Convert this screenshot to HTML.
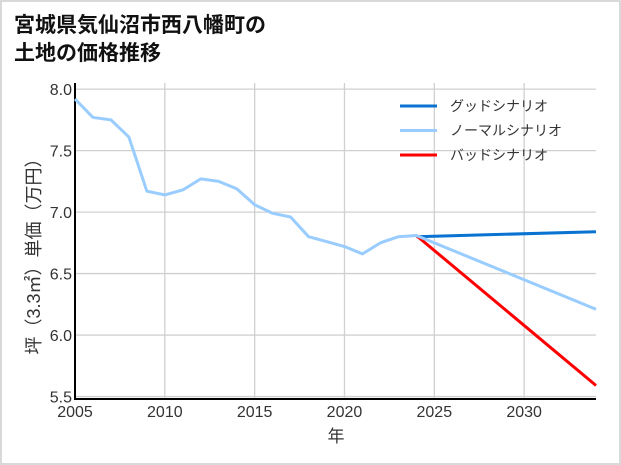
<!DOCTYPE html>
<html><head><meta charset="utf-8">
<style>
body{margin:0;background:#fff;}
#wrap{position:relative;width:617px;height:461px;border:2px solid #d9d9d9;background:#fff;overflow:hidden;}
#title{position:absolute;left:12px;top:10px;font:bold 21px/28px "Liberation Sans","Noto Sans CJK JP",sans-serif;color:#111;margin:0;}
svg{position:absolute;left:-2px;top:-2px;}
text{font-family:"Liberation Sans","Noto Sans CJK JP",sans-serif;fill:#333;}
text.tick{font-family:"Liberation Sans Narrow","Liberation Sans",sans-serif;}
</style></head><body>
<div id="wrap">
<h1 id="title">宮城県気仙沼市西八幡町の<br>土地の価格推移</h1>
<svg id="chart" width="621" height="465"></svg>
</div>
<script>
const years=[2005,2006,2007,2008,2009,2010,2011,2012,2013,2014,2015,2016,2017,2018,2019,2020,2021,2022,2023,2024];
const histValues=[7.92,7.77,7.75,7.61,7.17,7.14,7.18,7.27,7.25,7.19,7.06,6.99,6.96,6.80,6.76,6.72,6.66,6.75,6.80,6.81];
const forecastYears=[2024,2034];
const goodValues=[6.80,6.84];
const normalValues=[6.81,6.21];
const badValues=[6.81,5.59];
const xTicks=[2005,2010,2015,2020,2025,2030];
const yTicks=[5.5,6.0,6.5,7.0,7.5,8.0];
const yTickLabels=["5.5","6.0","6.5","7.0","7.5","8.0"];
const legendLabels=["グッドシナリオ","ノーマルシナリオ","バッドシナリオ"];

const NS="http://www.w3.org/2000/svg";
const svg=document.getElementById('chart');
const L=75,R=596,T=83,B=399;
const x=v=>L+(v-2005)/(2034-2005)*(R-L);
const y=v=>B-(v-5.48)/(8.05-5.48)*(B-T);
function mk(tag,attrs,parent){const e=document.createElementNS(NS,tag);for(const k in attrs)e.setAttribute(k,attrs[k]);(parent||svg).appendChild(e);return e;}

xTicks.forEach(t=>{
  const g=mk('line',{x1:x(t),x2:x(t),y1:T,y2:B,stroke:'#d0d0d0','stroke-width':1.3});
  
  
  const tx=mk('text',{x:x(t),y:B+18,'text-anchor':'middle','font-size':16,'class':'tick'});
  tx.textContent=t;
  
  
});
yTicks.forEach((t,i)=>{
  const g=mk('line',{x1:L,x2:R,y1:y(t),y2:y(t),stroke:'#d0d0d0','stroke-width':1.3});
  
  
  const tx=mk('text',{x:L-3,y:y(t)+6,'text-anchor':'end','font-size':16,'class':'tick'});
  tx.textContent=yTickLabels[i];
  
  
});
const ax=mk('path',{d:`M${L},${T} V${B} H${R}`,fill:'none',stroke:'#000','stroke-width':2});



function line(xs,vs,color,name){
  const p=mk('polyline',{points:xs.map((v,i)=>x(v)+','+y(vs[i])).join(' '),fill:'none',stroke:color,'stroke-width':3,'stroke-linejoin':'round'});
  
  
}
line(forecastYears,goodValues,'#0a72d0','good-scenario-line');
line(forecastYears,badValues,'#ff0000','bad-scenario-line');
line(years.concat([forecastYears[1]]),histValues.concat([normalValues[1]]),'#99ccff','normal-scenario-line');

const colors=['#0a72d0','#99ccff','#ff0000'];
legendLabels.forEach((lab,i)=>{
  const ly=106+i*24.5;
  const s=mk('line',{x1:400,x2:437,y1:ly,y2:ly,stroke:colors[i],'stroke-width':3});
  
  
  const t=mk('text',{x:450,y:ly+5,'font-size':14});
  t.textContent=lab;
  
  
});
const xt=mk('text',{x:336,y:442,'text-anchor':'middle','font-size':17});
xt.textContent='年';


const yt=mk('text',{x:0,y:0,'text-anchor':'middle','font-size':18,transform:'translate(40,252) rotate(-90)'});
yt.textContent='坪（3.3㎡）単価（万円）';


</script>
</body></html>
